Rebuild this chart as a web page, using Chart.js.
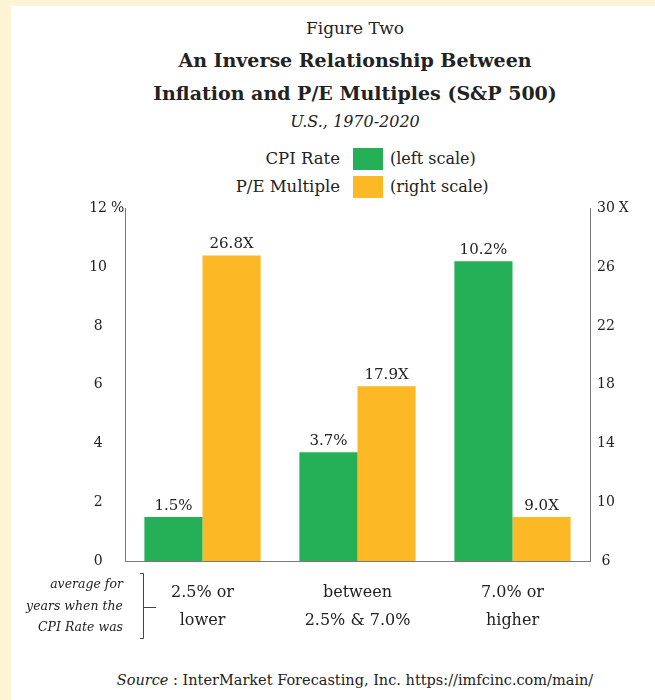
<!DOCTYPE html>
<html>
<head>
<meta charset="utf-8">
<script src="https://cdn.jsdelivr.net/npm/chart.js@4.4.1/dist/chart.umd.min.js"></script>
<style>
    body { margin: 0; position: relative; width: 655px; height: 700px; overflow: hidden;
           background: #fcf4d4; font-family: 'DejaVu Serif', 'Liberation Serif', serif; color: #222; }
    #panel { position: absolute; left: 11px; top: 6px; width: 644px; height: 694px; background: #fff; }
    .mid { position: absolute; left: 0; width: 710px; text-align: center; white-space: nowrap; }
    .key { position: absolute; white-space: nowrap; font-size: 16.5px; line-height: 22px; }
    .note { position: absolute; white-space: nowrap; font-size: 16px; line-height: 22px; }
    .swatch { position: absolute; left: 353px; width: 30px; height: 22px; }
    #chartWrap { position: absolute; left: 11px; top: 182px; width: 644px; height: 468px; }
</style>
</head>
<body>
<div id="panel"></div>

<div class="mid" style="top:17px; font-size:17px; line-height:22px;">Figure Two</div>
<div class="mid" style="top:49px; font-size:19px; line-height:22px; font-weight:bold;">An Inverse Relationship Between</div>
<div class="mid" style="top:82px; font-size:19px; line-height:22px; font-weight:bold;">Inflation and P/E Multiples (S&amp;P 500)</div>
<div class="mid" style="top:111px; font-size:16px; line-height:22px; font-style:italic;">U.S., 1970-2020</div>

<div class="key" style="right:315px; top:148px;">CPI Rate</div>
<div class="swatch" style="top:148px; background:#25b058;"></div>
<div class="note" style="left:390px; top:148px;">(left scale)</div>
<div class="key" style="right:315px; top:176px;">P/E Multiple</div>
<div class="swatch" style="top:176px; background:#fcb925;"></div>
<div class="note" style="left:390px; top:176px;">(right scale)</div>

<div id="chartWrap"><canvas id="resultPlot" width="644" height="468"></canvas></div>

<div class="mid" style="top:669px; font-size:14.5px; line-height:22px;"><i>Source</i> : InterMarket Forecasting, Inc. https://imfcinc.com/main/</div>

<script>
// categories on the x axis (each one two lines)
let categories = [['2.5% or', 'lower'], ['between', '2.5% & 7.0%'], ['7.0% or', 'higher']];
// average CPI rate, percent (left scale)
let cpiRate = [1.5, 3.7, 10.2];
// average P/E multiple (right scale)
let peMultiple = [26.8, 17.9, 9.0];
// tick values of the two y axes
let leftTicks = [0, 2, 4, 6, 8, 10, 12];
let rightTicks = [6, 10, 14, 18, 22, 26, 30];
let bracketText = ['average for', 'years when the', 'CPI Rate was'];

let fontFamily = "'DejaVu Serif', 'Liberation Serif', serif";
let textColor = '#222';
let axisColor = '#7a7a7a';
let plot = null;

/**
 * Numbers above every bar.
 */
let valueLabels = {
    id: 'valueLabels',
    afterDatasetsDraw: function(chart){
        let ctx = chart.ctx;
        ctx.save();
        ctx.font = '15px ' + fontFamily;
        ctx.fillStyle = textColor;
        ctx.textAlign = 'center';
        ctx.textBaseline = 'middle';
        chart.data.datasets.forEach(function(ds, i){
            let meta = chart.getDatasetMeta(i);
            meta.data.forEach(function(bar, j){
                let v = ds.data[j].toFixed(1) + ds.unit;
                ctx.fillText(v, bar.x, bar.y - 11);
            });
        });
        ctx.restore();
    }
};

/**
 * Unit marks next to the top ticks and the bracket note under the left axis.
 */
let axisNotes = {
    id: 'axisNotes',
    afterDraw: function(chart){
        let ctx = chart.ctx;
        let area = chart.chartArea;
        let yl = chart.scales.y;
        let yr = chart.scales.y1;
        ctx.save();
        ctx.fillStyle = textColor;
        ctx.font = '14px ' + fontFamily;
        ctx.textBaseline = 'middle';
        ctx.textAlign = 'left';
        ctx.fillText('%', yl.right - 18 + 4, yl.getPixelForValue(12));
        let w = ctx.measureText('30').width;
        ctx.fillText('X', yr.left + 7 + w + 4, yr.getPixelForValue(30));

        // bracket
        let bx = area.left + 18;
        let top = area.bottom + 12;
        let bottom = area.bottom + 77;
        let mid = area.bottom + 46;
        ctx.strokeStyle = '#444';
        ctx.lineWidth = 1;
        ctx.beginPath();
        ctx.moveTo(bx - 3, top + 0.5);
        ctx.lineTo(bx + 0.5, top + 0.5);
        ctx.lineTo(bx + 0.5, bottom + 0.5);
        ctx.lineTo(bx - 3, bottom + 0.5);
        ctx.moveTo(bx, mid + 0.5);
        ctx.lineTo(bx + 13, mid + 0.5);
        ctx.stroke();

        ctx.font = 'italic 12.5px ' + fontFamily;
        ctx.textAlign = 'right';
        for (let i = 0; i < bracketText.length; i++){
            ctx.fillText(bracketText[i], area.left - 2, area.bottom + 24 + i * 21.5);
        }
        ctx.restore();
    }
};

/**
 * Draw the bar chart with two y scales
 */
function draw(){
    let plotArea = document.getElementById('resultPlot');
    let tickFont = {family: fontFamily, size: 14};
    let chartObject = {};
    chartObject['type'] = 'bar';
    chartObject['data'] = {};
    chartObject['data']['labels'] = categories;
    chartObject['data']['datasets'] = [
        {label: 'CPI Rate', data: cpiRate, unit: '%', yAxisID: 'y', backgroundColor: '#25b058'},
        {label: 'P/E Multiple', data: peMultiple, unit: 'X', yAxisID: 'y1', backgroundColor: '#fcb925'}
    ];
    chartObject['options'] = {
        responsive: false,
        animation: false,
        categoryPercentage: 0.75,
        barPercentage: 1.0,
        layout: {padding: {top: 10, left: 0, right: 0, bottom: 0}},
        plugins: {legend: {display: false}, tooltip: {enabled: false}},
        scales: {
            x: {
                grid: {display: false, drawTicks: false},
                border: {color: axisColor},
                ticks: {color: textColor, padding: 17, font: {family: fontFamily, size: 16, lineHeight: 1.8}},
                afterFit: function(scale){ scale.height = 89; }
            },
            y: {
                position: 'left',
                min: 0,
                max: 12,
                afterBuildTicks: function(scale){ scale.ticks = leftTicks.map(function(v){ return {value: v}; }); },
                grid: {display: false, drawTicks: false},
                border: {color: axisColor},
                ticks: {color: textColor, padding: 18, crossAlign: 'center', font: tickFont},
                afterFit: function(scale){ scale.width = 114; }
            },
            y1: {
                position: 'right',
                min: 6,
                max: 30,
                afterBuildTicks: function(scale){ scale.ticks = rightTicks.map(function(v){ return {value: v}; }); },
                grid: {display: false, drawTicks: false},
                border: {color: axisColor},
                ticks: {color: textColor, padding: 7, crossAlign: 'center', font: tickFont},
                afterFit: function(scale){ scale.width = 65; }
            }
        }
    };
    chartObject['plugins'] = [valueLabels, axisNotes];

    plot = new Chart(plotArea, chartObject);
}

draw();
</script>
</body>
</html>
